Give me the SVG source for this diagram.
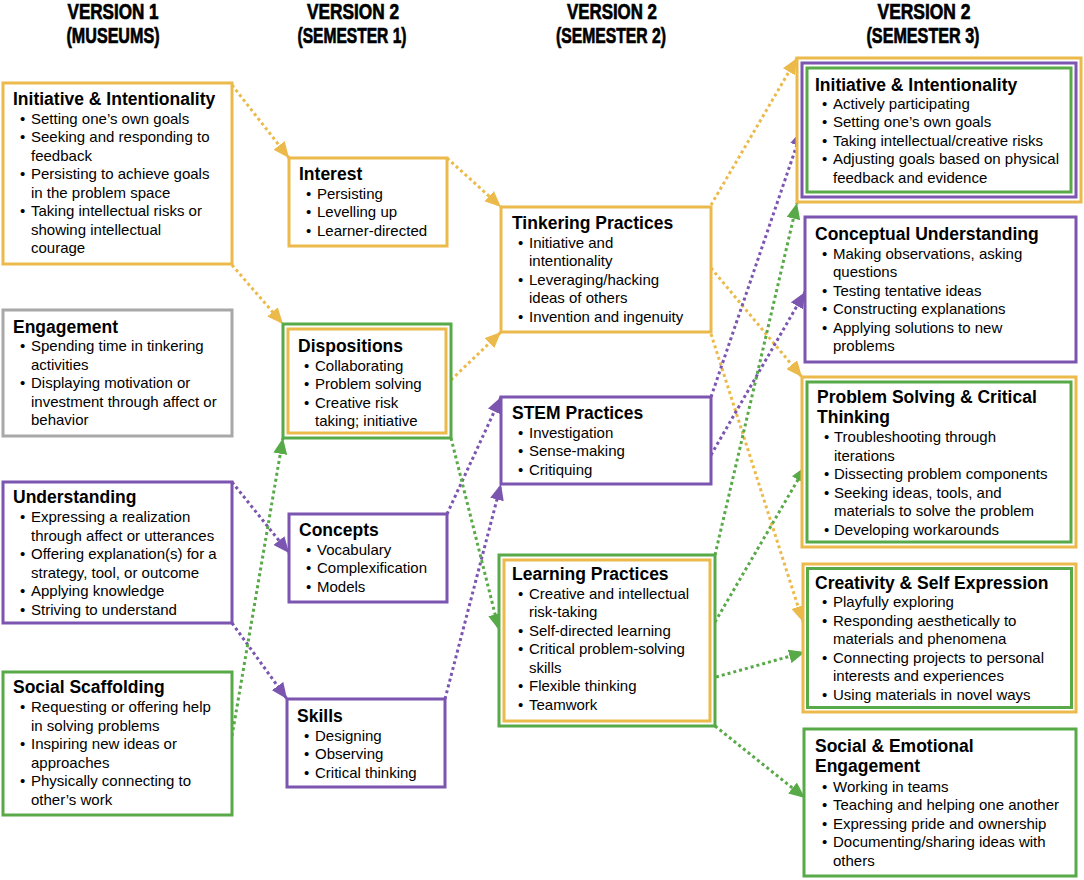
<svg xmlns="http://www.w3.org/2000/svg" width="1084" height="880" viewBox="0 0 1084 880">
<style>
.h{font-family:"Liberation Sans",Arial,sans-serif;font-weight:bold;font-size:22px;fill:#000;stroke:#000;stroke-width:0.7;text-anchor:middle}
.t{font-family:"Liberation Sans",Arial,sans-serif;font-weight:bold;font-size:17.5px;fill:#000}
.i{font-family:"Liberation Sans",Arial,sans-serif;font-size:15px;fill:#000}
.box{fill:#fff;stroke-width:3}
.in{fill:none;stroke-width:3}
.gold{stroke:#EBBA4A}
.pur{stroke:#7B55B0}
.grn{stroke:#58A948}
.gry{stroke:#A8A8A8}
.c{fill:none;stroke-width:3;stroke-dasharray:3 3}
</style>
<defs>
<marker id="ag" viewBox="0 0 16 14" refX="16" refY="7" markerWidth="16" markerHeight="14" markerUnits="userSpaceOnUse" orient="auto"><path d="M0,0 L16,7 L0,14 z" fill="#EBBA4A"/></marker>
<marker id="ap" viewBox="0 0 16 14" refX="16" refY="7" markerWidth="16" markerHeight="14" markerUnits="userSpaceOnUse" orient="auto"><path d="M0,0 L16,7 L0,14 z" fill="#7B55B0"/></marker>
<marker id="an" viewBox="0 0 16 14" refX="16" refY="7" markerWidth="16" markerHeight="14" markerUnits="userSpaceOnUse" orient="auto"><path d="M0,0 L16,7 L0,14 z" fill="#58A948"/></marker>
</defs>
<rect width="1084" height="880" fill="#fff"/>
<g id="headers">
<text class="h" x="113" y="19" textLength="91" lengthAdjust="spacingAndGlyphs">VERSION 1</text>
<text class="h" x="113" y="43" textLength="93" lengthAdjust="spacingAndGlyphs">(MUSEUMS)</text>
<text class="h" x="353" y="19" textLength="92" lengthAdjust="spacingAndGlyphs">VERSION 2</text>
<text class="h" x="352" y="43" textLength="109" lengthAdjust="spacingAndGlyphs">(SEMESTER 1)</text>
<text class="h" x="612" y="19" textLength="90" lengthAdjust="spacingAndGlyphs">VERSION 2</text>
<text class="h" x="611" y="43" textLength="110" lengthAdjust="spacingAndGlyphs">(SEMESTER 2)</text>
<text class="h" x="924" y="19" textLength="93" lengthAdjust="spacingAndGlyphs">VERSION 2</text>
<text class="h" x="923" y="43" textLength="113" lengthAdjust="spacingAndGlyphs">(SEMESTER 3)</text>
</g>
<g id="connectors">
<line class="c gold" x1="232" y1="85" x2="289" y2="158" marker-end="url(#ag)"/>
<line class="c gold" x1="232" y1="265" x2="283" y2="324" marker-end="url(#ag)"/>
<line class="c gold" x1="447" y1="158" x2="501" y2="207" marker-end="url(#ag)"/>
<line class="c gold" x1="451" y1="380" x2="501" y2="332" marker-end="url(#ag)"/>
<line class="c gold" x1="711" y1="205" x2="797" y2="58" marker-end="url(#ag)"/>
<line class="c gold" x1="711" y1="268" x2="802" y2="377" marker-end="url(#ag)"/>
<line class="c gold" x1="711" y1="334" x2="803" y2="622" marker-end="url(#ag)"/>
<line class="c pur" x1="232" y1="482" x2="289" y2="553" marker-end="url(#ap)"/>
<line class="c pur" x1="232" y1="623" x2="287" y2="699" marker-end="url(#ap)"/>
<line class="c pur" x1="447" y1="514" x2="501" y2="397" marker-end="url(#ap)"/>
<line class="c pur" x1="445" y1="699" x2="501" y2="484" marker-end="url(#ap)"/>
<line class="c pur" x1="711" y1="397" x2="802" y2="130" marker-end="url(#ap)"/>
<line class="c pur" x1="711" y1="455" x2="805" y2="292" marker-end="url(#ap)"/>
<line class="c grn" x1="232" y1="736" x2="283" y2="438" marker-end="url(#an)"/>
<line class="c grn" x1="451" y1="438" x2="499" y2="630" marker-end="url(#an)"/>
<line class="c grn" x1="715" y1="555" x2="797" y2="203" marker-end="url(#an)"/>
<line class="c grn" x1="715" y1="622" x2="806" y2="466" marker-end="url(#an)"/>
<line class="c grn" x1="716" y1="677" x2="805" y2="652" marker-end="url(#an)"/>
<line class="c grn" x1="715" y1="726" x2="805" y2="798" marker-end="url(#an)"/>
</g>
<g id="v1-initiative">
<rect class="box gold" x="3" y="83" width="229" height="181"/>
<text class="t" x="13" y="105">Initiative &amp; Intentionality</text>
<text class="i" x="20" y="123.5">•</text><text class="i" x="31" y="123.5">Setting one’s own goals</text>
<text class="i" x="20" y="142">•</text><text class="i" x="31" y="142">Seeking and responding to</text>
<text class="i" x="31" y="160.5">feedback</text>
<text class="i" x="20" y="179">•</text><text class="i" x="31" y="179">Persisting to achieve goals</text>
<text class="i" x="31" y="197.5">in the problem space</text>
<text class="i" x="20" y="216">•</text><text class="i" x="31" y="216">Taking intellectual risks or</text>
<text class="i" x="31" y="234.5">showing intellectual</text>
<text class="i" x="31" y="253">courage</text>
</g>
<g id="v1-engagement">
<rect class="box gry" x="3" y="310" width="229" height="126"/>
<text class="t" x="13" y="333">Engagement</text>
<text class="i" x="20" y="351">•</text><text class="i" x="31" y="351">Spending time in tinkering</text>
<text class="i" x="31" y="369.5">activities</text>
<text class="i" x="20" y="388">•</text><text class="i" x="31" y="388">Displaying motivation or</text>
<text class="i" x="31" y="406.5">investment through affect or</text>
<text class="i" x="31" y="425">behavior</text>
</g>
<g id="v1-understanding">
<rect class="box pur" x="3" y="482" width="229" height="141"/>
<text class="t" x="13" y="503">Understanding</text>
<text class="i" x="20" y="522">•</text><text class="i" x="31" y="522">Expressing a realization</text>
<text class="i" x="31" y="540.5">through affect or utterances</text>
<text class="i" x="20" y="559">•</text><text class="i" x="31" y="559">Offering explanation(s) for a</text>
<text class="i" x="31" y="577.5">strategy, tool, or outcome</text>
<text class="i" x="20" y="596">•</text><text class="i" x="31" y="596">Applying knowledge</text>
<text class="i" x="20" y="614.5">•</text><text class="i" x="31" y="614.5">Striving to understand</text>
</g>
<g id="v1-social">
<rect class="box grn" x="3" y="672" width="229" height="143"/>
<text class="t" x="13" y="693">Social Scaffolding</text>
<text class="i" x="20" y="712">•</text><text class="i" x="31" y="712">Requesting or offering help</text>
<text class="i" x="31" y="730.5">in solving problems</text>
<text class="i" x="20" y="749">•</text><text class="i" x="31" y="749">Inspiring new ideas or</text>
<text class="i" x="31" y="767.5">approaches</text>
<text class="i" x="20" y="786">•</text><text class="i" x="31" y="786">Physically connecting to</text>
<text class="i" x="31" y="804.5">other’s work</text>
</g>
<g id="s1-interest">
<rect class="box gold" x="289" y="158" width="158" height="88"/>
<text class="t" x="299" y="180">Interest</text>
<text class="i" x="306" y="198.5">•</text><text class="i" x="317" y="198.5">Persisting</text>
<text class="i" x="306" y="217">•</text><text class="i" x="317" y="217">Levelling up</text>
<text class="i" x="306" y="235.5">•</text><text class="i" x="317" y="235.5">Learner-directed</text>
</g>
<g id="s1-dispositions">
<rect class="box grn" x="283" y="324" width="168" height="114"/>
<rect class="in gold" x="288" y="329" width="158" height="104"/>
<text class="t" x="298" y="352">Dispositions</text>
<text class="i" x="304" y="370.5">•</text><text class="i" x="315" y="370.5">Collaborating</text>
<text class="i" x="304" y="389">•</text><text class="i" x="315" y="389">Problem solving</text>
<text class="i" x="304" y="407.5">•</text><text class="i" x="315" y="407.5">Creative risk</text>
<text class="i" x="315" y="426">taking; initiative</text>
</g>
<g id="s1-concepts">
<rect class="box pur" x="289" y="514" width="158" height="88"/>
<text class="t" x="299" y="536">Concepts</text>
<text class="i" x="306" y="555">•</text><text class="i" x="317" y="555">Vocabulary</text>
<text class="i" x="306" y="573">•</text><text class="i" x="317" y="573">Complexification</text>
<text class="i" x="306" y="591.5">•</text><text class="i" x="317" y="591.5">Models</text>
</g>
<g id="s1-skills">
<rect class="box pur" x="287" y="699" width="158" height="88"/>
<text class="t" x="297" y="722">Skills</text>
<text class="i" x="304" y="740.5">•</text><text class="i" x="315" y="740.5">Designing</text>
<text class="i" x="304" y="759">•</text><text class="i" x="315" y="759">Observing</text>
<text class="i" x="304" y="777.5">•</text><text class="i" x="315" y="777.5">Critical thinking</text>
</g>
<g id="s2-tinkering">
<rect class="box gold" x="501" y="207" width="210" height="125"/>
<text class="t" x="512" y="229">Tinkering Practices</text>
<text class="i" x="518" y="247.5">•</text><text class="i" x="529" y="247.5">Initiative and</text>
<text class="i" x="529" y="266">intentionality</text>
<text class="i" x="518" y="284.5">•</text><text class="i" x="529" y="284.5">Leveraging/hacking</text>
<text class="i" x="529" y="303">ideas of others</text>
<text class="i" x="518" y="321.5">•</text><text class="i" x="529" y="321.5">Invention and ingenuity</text>
</g>
<g id="s2-stem">
<rect class="box pur" x="501" y="397" width="210" height="87"/>
<text class="t" x="512" y="419">STEM Practices</text>
<text class="i" x="518" y="437.5">•</text><text class="i" x="529" y="437.5">Investigation</text>
<text class="i" x="518" y="456">•</text><text class="i" x="529" y="456">Sense-making</text>
<text class="i" x="518" y="474.5">•</text><text class="i" x="529" y="474.5">Critiquing</text>
</g>
<g id="s2-learning">
<rect class="box grn" x="499" y="555" width="216" height="171"/>
<rect class="in gold" x="504" y="560" width="206" height="161"/>
<text class="t" x="512" y="580">Learning Practices</text>
<text class="i" x="518" y="598.5">•</text><text class="i" x="529" y="598.5">Creative and intellectual</text>
<text class="i" x="529" y="617">risk-taking</text>
<text class="i" x="518" y="635.5">•</text><text class="i" x="529" y="635.5">Self-directed learning</text>
<text class="i" x="518" y="654">•</text><text class="i" x="529" y="654">Critical problem-solving</text>
<text class="i" x="529" y="672.5">skills</text>
<text class="i" x="518" y="691">•</text><text class="i" x="529" y="691">Flexible thinking</text>
<text class="i" x="518" y="709.5">•</text><text class="i" x="529" y="709.5">Teamwork</text>
</g>
<g id="s3-initiative">
<rect class="box gold" x="797" y="58" width="284" height="144"/>
<rect class="in pur" x="802" y="63" width="274" height="134"/>
<rect class="in grn" x="807" y="68" width="264" height="124"/>
<text class="t" x="815" y="91">Initiative &amp; Intentionality</text>
<text class="i" x="822" y="108.5">•</text><text class="i" x="833" y="108.5">Actively participating</text>
<text class="i" x="822" y="127">•</text><text class="i" x="833" y="127">Setting one’s own goals</text>
<text class="i" x="822" y="145.5">•</text><text class="i" x="833" y="145.5">Taking intellectual/creative risks</text>
<text class="i" x="822" y="164">•</text><text class="i" x="833" y="164">Adjusting goals based on physical</text>
<text class="i" x="833" y="182.5">feedback and evidence</text>
</g>
<g id="s3-conceptual">
<rect class="box pur" x="805" y="217" width="271" height="145"/>
<text class="t" x="815" y="240">Conceptual Understanding</text>
<text class="i" x="822" y="258.5">•</text><text class="i" x="833" y="258.5">Making observations, asking</text>
<text class="i" x="833" y="277">questions</text>
<text class="i" x="822" y="295.5">•</text><text class="i" x="833" y="295.5">Testing tentative ideas</text>
<text class="i" x="822" y="314">•</text><text class="i" x="833" y="314">Constructing explanations</text>
<text class="i" x="822" y="332.5">•</text><text class="i" x="833" y="332.5">Applying solutions to new</text>
<text class="i" x="833" y="351">problems</text>
</g>
<g id="s3-problem">
<rect class="box gold" x="802" y="377" width="274" height="170"/>
<rect class="in grn" x="807" y="382" width="264" height="160"/>
<text class="t" x="817" y="403">Problem Solving &amp; Critical</text>
<text class="t" x="817" y="423">Thinking</text>
<text class="i" x="824" y="442">•</text><text class="i" x="834" y="442">Troubleshooting through</text>
<text class="i" x="834" y="460.5">iterations</text>
<text class="i" x="824" y="479">•</text><text class="i" x="834" y="479">Dissecting problem components</text>
<text class="i" x="824" y="497.5">•</text><text class="i" x="834" y="497.5">Seeking ideas, tools, and</text>
<text class="i" x="834" y="516">materials to solve the problem</text>
<text class="i" x="824" y="534.5">•</text><text class="i" x="834" y="534.5">Developing workarounds</text>
</g>
<g id="s3-creativity">
<rect class="box gold" x="803" y="564" width="273" height="148"/>
<rect class="in grn" x="807.5" y="568.5" width="264" height="139"/>
<text class="t" x="815" y="589">Creativity &amp; Self Expression</text>
<text class="i" x="822" y="607">•</text><text class="i" x="833" y="607">Playfully exploring</text>
<text class="i" x="822" y="626">•</text><text class="i" x="833" y="626">Responding aesthetically to</text>
<text class="i" x="833" y="644">materials and phenomena</text>
<text class="i" x="822" y="663">•</text><text class="i" x="833" y="663">Connecting projects to personal</text>
<text class="i" x="833" y="681">interests and experiences</text>
<text class="i" x="822" y="700">•</text><text class="i" x="833" y="700">Using materials in novel ways</text>
</g>
<g id="s3-social">
<rect class="box grn" x="804" y="729" width="272" height="147"/>
<text class="t" x="815" y="752">Social &amp; Emotional</text>
<text class="t" x="815" y="772">Engagement</text>
<text class="i" x="822" y="792">•</text><text class="i" x="833" y="792">Working in teams</text>
<text class="i" x="822" y="810">•</text><text class="i" x="833" y="810">Teaching and helping one another</text>
<text class="i" x="822" y="829">•</text><text class="i" x="833" y="829">Expressing pride and ownership</text>
<text class="i" x="822" y="847">•</text><text class="i" x="833" y="847">Documenting/sharing ideas with</text>
<text class="i" x="833" y="866">others</text>
</g>
</svg>
